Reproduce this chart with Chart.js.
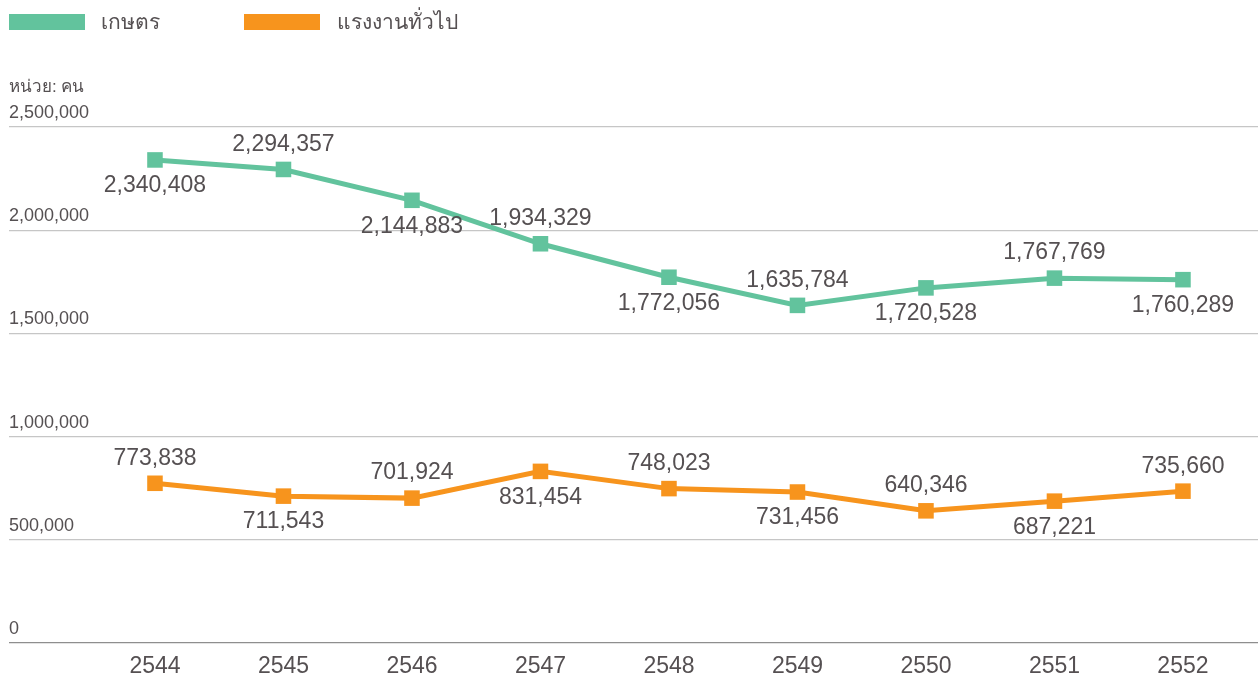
<!DOCTYPE html>
<html><head><meta charset="utf-8">
<script src="https://cdn.jsdelivr.net/npm/chart.js@4/dist/chart.umd.min.js"></script>
<style>
html,body{margin:0;padding:0;background:#fff;}
#wrap{position:relative;width:1258px;height:677px;overflow:hidden;}
canvas{position:absolute;left:0;top:0;}
.lg-box{position:absolute;top:14px;width:76px;height:16px;}
.lg-txt{position:absolute;top:4px;font-family:"Liberation Sans",Arial,sans-serif;font-size:21px;line-height:36px;color:#555052;}
#unit{position:absolute;left:9px;top:75px;font-family:"Liberation Sans",Arial,sans-serif;font-size:17px;line-height:24px;color:#555052;}
</style></head>
<body><div id="wrap"><canvas id="c" width="1258" height="677"></canvas>
<div id="legend"></div><div id="unit">หน่วย: คน</div></div>
<script>
const categories = ['2544','2545','2546','2547','2548','2549','2550','2551','2552'];
const agriculture = [2340408, 2294357, 2144883, 1934329, 1772056, 1635784, 1720528, 1767769, 1760289];
const generalLabour = [773838, 711543, 701924, 831454, 748023, 731456, 640346, 687221, 735660];
const seriesNames = ['เกษตร', 'แรงงานทั่วไป'];
const seriesColors = ['#62c39d', '#f7941d'];
const yTicks = [0, 500000, 1000000, 1500000, 2000000, 2500000];

const TEXT = '#555052';
const FONT = '"Liberation Sans", Arial, sans-serif';

// HTML legend
const legendPos = [[9, 101], [244, 337]];
const lg = document.getElementById('legend');
seriesNames.forEach((n, i) => {
  const b = document.createElement('div');
  b.className = 'lg-box'; b.style.left = legendPos[i][0] + 'px'; b.style.background = seriesColors[i];
  const t = document.createElement('div');
  t.className = 'lg-txt'; t.style.left = legendPos[i][1] + 'px'; t.textContent = n;
  lg.appendChild(b); lg.appendChild(t);
});

const fmt = v => Number(v).toLocaleString('en-US');

const valueLabels = {
  id: 'valueLabels',
  afterDatasetsDraw(chart) {
    const ctx = chart.ctx;
    ctx.save();
    ctx.font = '23px ' + FONT;
    ctx.fillStyle = TEXT;
    ctx.textAlign = 'center';
    ctx.textBaseline = 'middle';
    chart.data.datasets.forEach((ds, di) => {
      const meta = chart.getDatasetMeta(di);
      meta.data.forEach((pt, i) => {
        const below = di === 0 ? (i % 2 === 0) : (i % 2 === 1);
        const dy = below ? 26 : -25;
        ctx.fillText(fmt(ds.data[i].y), pt.x, pt.y + dy);
      });
    });
    ctx.restore();
  }
};

const toPoints = arr => arr.map((v, i) => ({x: i, y: v}));

new Chart(document.getElementById('c'), {
  type: 'line',
  data: {
    datasets: [agriculture, generalLabour].map((arr, i) => ({
      label: seriesNames[i],
      data: toPoints(arr),
      borderColor: seriesColors[i],
      backgroundColor: seriesColors[i],
      borderWidth: 5,
      pointStyle: 'rect',
      pointRadius: 11,
      pointBorderWidth: 0,
      pointBackgroundColor: seriesColors[i],
      tension: 0,
      clip: false
    }))
  },
  options: {
    responsive: false,
    animation: false,
    layout: {autoPadding: false, padding: {left: 9, right: 0, top: 127, bottom: 0}},
    plugins: {legend: {display: false}, tooltip: {enabled: false}},
    scales: {
      x: {
        type: 'linear',
        min: -1.136,
        max: 8.584,
        afterBuildTicks: axis => { axis.ticks = categories.map((c, i) => ({value: i})); },
        afterFit: axis => { axis.paddingLeft = 0; axis.paddingRight = 0; axis.height = 34; },
        grid: {display: false, drawTicks: false},
        border: {display: false},
        ticks: {
          callback: v => categories[v],
          color: TEXT,
          font: {family: FONT, size: 23},
          padding: 10,
          maxRotation: 0,
          autoSkip: false
        }
      },
      y: {
        min: 0,
        max: 2500000,
        afterBuildTicks: axis => { axis.ticks = yTicks.map(v => ({value: v})); },
        afterFit: axis => { axis.width = 0; axis.paddingTop = 0; axis.paddingBottom = 0; },
        grid: {
          drawTicks: false,
          color: c => c.tick && c.tick.value === 0 ? '#8e8e8e' : '#c6c6c6',
          lineWidth: 1.3
        },
        border: {display: false},
        ticks: {
          mirror: true,
          padding: 0,
          labelOffset: -14,
          color: TEXT,
          font: {family: FONT, size: 18},
          callback: v => fmt(v)
        }
      }
    }
  },
  plugins: [valueLabels]
});
</script>
</body></html>
